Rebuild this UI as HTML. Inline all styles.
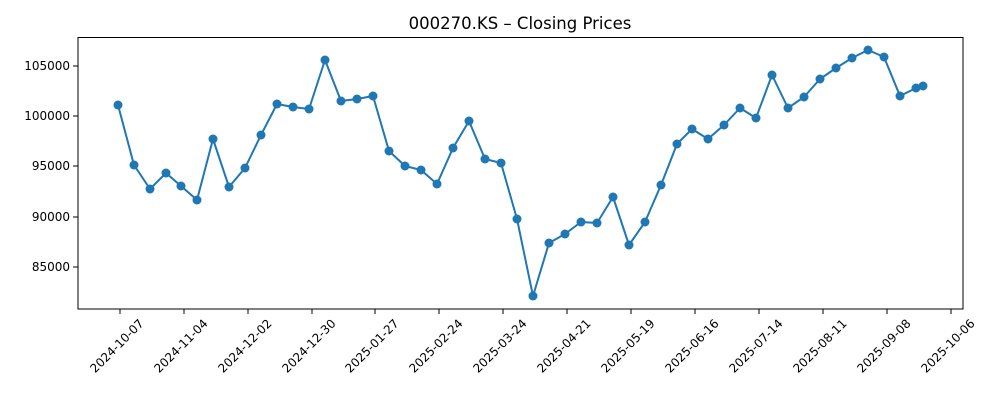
<!DOCTYPE html>
<html><head><meta charset="utf-8"><style>body{margin:0;background:#fff}svg{display:block}text{font-family:"DejaVu Sans","Liberation Sans",sans-serif;fill:#000}</style></head>
<body>
<svg width="1000" height="400" viewBox="0 0 1000 400" xmlns="http://www.w3.org/2000/svg">
<rect width="1000" height="400" fill="#fff"/>
<text x="520" y="29" font-size="16.5" text-anchor="middle">000270.KS – Closing Prices</text>
<g font-size="12" text-anchor="end">
<line x1="73" x2="78" y1="66" y2="66" stroke="#000"/><text x="70" y="70">105000</text>
<line x1="73" x2="78" y1="116" y2="116" stroke="#000"/><text x="70" y="120">100000</text>
<line x1="73" x2="78" y1="166" y2="166" stroke="#000"/><text x="70" y="170">95000</text>
<line x1="73" x2="78" y1="217" y2="217" stroke="#000"/><text x="70" y="221">90000</text>
<line x1="73" x2="78" y1="267" y2="267" stroke="#000"/><text x="70" y="271">85000</text>
</g>
<g font-size="12" text-anchor="middle">
<g transform="translate(120,309)"><line y2="5" stroke="#000"/><text transform="translate(-3,37) rotate(-45)" dy="4">2024-10-07</text></g>
<g transform="translate(184,309)"><line y2="5" stroke="#000"/><text transform="translate(-3,37) rotate(-45)" dy="4">2024-11-04</text></g>
<g transform="translate(248,309)"><line y2="5" stroke="#000"/><text transform="translate(-3,37) rotate(-45)" dy="4">2024-12-02</text></g>
<g transform="translate(312,309)"><line y2="5" stroke="#000"/><text transform="translate(-3,37) rotate(-45)" dy="4">2024-12-30</text></g>
<g transform="translate(375,309)"><line y2="5" stroke="#000"/><text transform="translate(-3,37) rotate(-45)" dy="4">2025-01-27</text></g>
<g transform="translate(439,309)"><line y2="5" stroke="#000"/><text transform="translate(-3,37) rotate(-45)" dy="4">2025-02-24</text></g>
<g transform="translate(503,309)"><line y2="5" stroke="#000"/><text transform="translate(-3,37) rotate(-45)" dy="4">2025-03-24</text></g>
<g transform="translate(567,309)"><line y2="5" stroke="#000"/><text transform="translate(-3,37) rotate(-45)" dy="4">2025-04-21</text></g>
<g transform="translate(631,309)"><line y2="5" stroke="#000"/><text transform="translate(-3,37) rotate(-45)" dy="4">2025-05-19</text></g>
<g transform="translate(695,309)"><line y2="5" stroke="#000"/><text transform="translate(-3,37) rotate(-45)" dy="4">2025-06-16</text></g>
<g transform="translate(759,309)"><line y2="5" stroke="#000"/><text transform="translate(-3,37) rotate(-45)" dy="4">2025-07-14</text></g>
<g transform="translate(823,309)"><line y2="5" stroke="#000"/><text transform="translate(-3,37) rotate(-45)" dy="4">2025-08-11</text></g>
<g transform="translate(887,309)"><line y2="5" stroke="#000"/><text transform="translate(-3,37) rotate(-45)" dy="4">2025-09-08</text></g>
<g transform="translate(951,309)"><line y2="5" stroke="#000"/><text transform="translate(-3,37) rotate(-45)" dy="4">2025-10-06</text></g>
</g>
<polyline fill="none" stroke="#1f77b4" stroke-width="2" stroke-linejoin="round" points="118,105 134,165 150,189 166,173 181,186 197,200 213,139 229,187 245,168 261,135 277,104 293,107 309,109 325,60 341,101 357,99 373,96 389,151 405,166 421,170 437,184 453,148 469,121 485,159 501,163 517,219 533,296 549,243 565,234 581,222 597,223 613,197 629,245 645,222 661,185 677,144 692,129 708,139 724,125 740,108 756,118 772,75 788,108 804,97 820,79 836,68 852,58 868,50 884,57 900,96 916,88 923,86"/>
<g fill="#1f77b4">
<circle cx="118" cy="105" r="4.5"/><circle cx="134" cy="165" r="4.5"/><circle cx="150" cy="189" r="4.5"/><circle cx="166" cy="173" r="4.5"/><circle cx="181" cy="186" r="4.5"/><circle cx="197" cy="200" r="4.5"/><circle cx="213" cy="139" r="4.5"/><circle cx="229" cy="187" r="4.5"/><circle cx="245" cy="168" r="4.5"/><circle cx="261" cy="135" r="4.5"/><circle cx="277" cy="104" r="4.5"/><circle cx="293" cy="107" r="4.5"/><circle cx="309" cy="109" r="4.5"/><circle cx="325" cy="60" r="4.5"/><circle cx="341" cy="101" r="4.5"/><circle cx="357" cy="99" r="4.5"/><circle cx="373" cy="96" r="4.5"/><circle cx="389" cy="151" r="4.5"/><circle cx="405" cy="166" r="4.5"/><circle cx="421" cy="170" r="4.5"/><circle cx="437" cy="184" r="4.5"/><circle cx="453" cy="148" r="4.5"/><circle cx="469" cy="121" r="4.5"/><circle cx="485" cy="159" r="4.5"/><circle cx="501" cy="163" r="4.5"/><circle cx="517" cy="219" r="4.5"/><circle cx="533" cy="296" r="4.5"/><circle cx="549" cy="243" r="4.5"/><circle cx="565" cy="234" r="4.5"/><circle cx="581" cy="222" r="4.5"/><circle cx="597" cy="223" r="4.5"/><circle cx="613" cy="197" r="4.5"/><circle cx="629" cy="245" r="4.5"/><circle cx="645" cy="222" r="4.5"/><circle cx="661" cy="185" r="4.5"/><circle cx="677" cy="144" r="4.5"/><circle cx="692" cy="129" r="4.5"/><circle cx="708" cy="139" r="4.5"/><circle cx="724" cy="125" r="4.5"/><circle cx="740" cy="108" r="4.5"/><circle cx="756" cy="118" r="4.5"/><circle cx="772" cy="75" r="4.5"/><circle cx="788" cy="108" r="4.5"/><circle cx="804" cy="97" r="4.5"/><circle cx="820" cy="79" r="4.5"/><circle cx="836" cy="68" r="4.5"/><circle cx="852" cy="58" r="4.5"/><circle cx="868" cy="50" r="4.5"/><circle cx="884" cy="57" r="4.5"/><circle cx="900" cy="96" r="4.5"/><circle cx="916" cy="88" r="4.5"/><circle cx="923" cy="86" r="4.5"/>
</g>
<rect x="78" y="37.5" width="885" height="271.5" fill="none" stroke="#000" stroke-width="1"/>
</svg>
</body></html>
